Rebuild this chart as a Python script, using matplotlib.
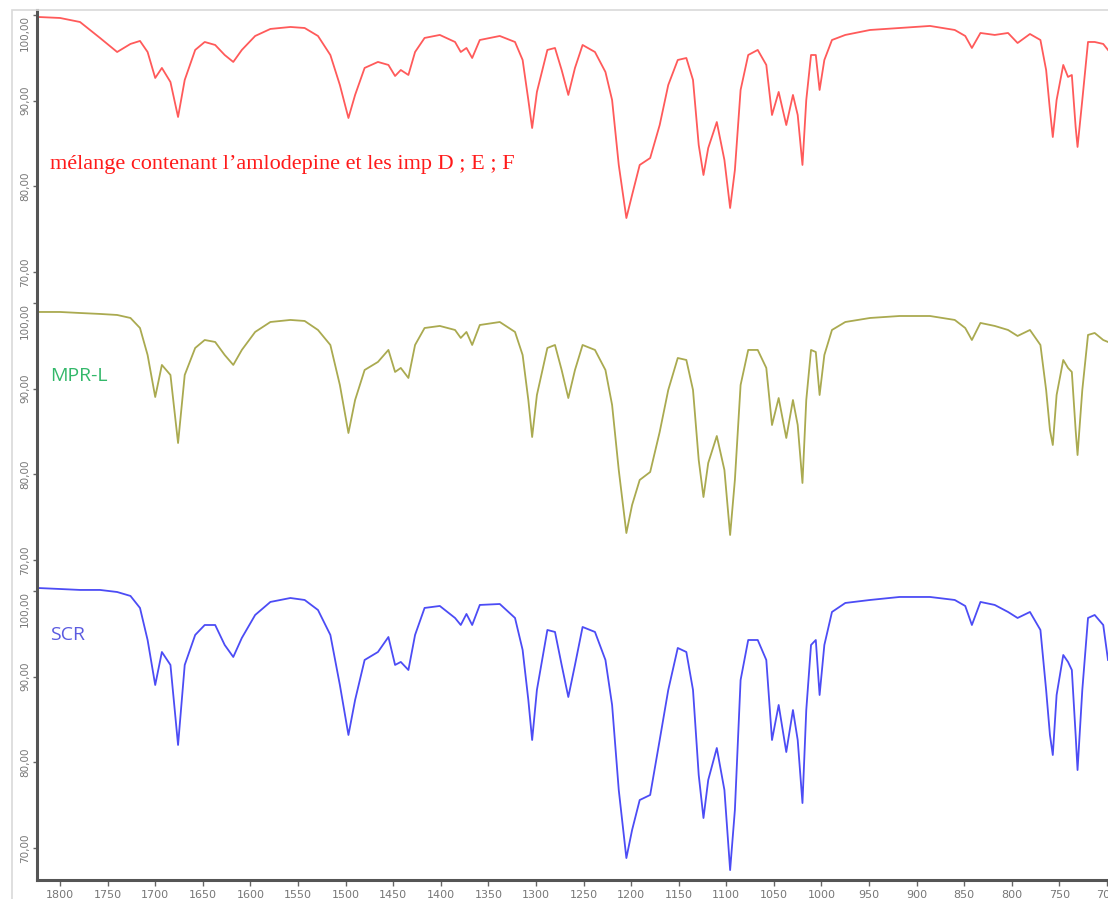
import numpy as np
import matplotlib
matplotlib.use("Agg")
import matplotlib.pyplot as plt
from matplotlib.patches import Rectangle

# wavenumbers (cm-1), same grid for all three spectra
wavenumber = [1824, 1800, 1779, 1758, 1740, 1726, 1716, 1708, 1700, 1693, 1684, 1676,
              1669, 1658, 1648, 1637, 1627, 1618, 1609, 1595, 1579, 1558, 1543, 1529,
              1516, 1506, 1497, 1490, 1480, 1466, 1455, 1448, 1442, 1434, 1427, 1417,
              1401, 1385, 1379, 1373, 1367, 1359, 1338, 1322, 1314, 1308, 1304, 1299,
              1288, 1280, 1273, 1266, 1259, 1251, 1238, 1227, 1220, 1213, 1205, 1199,
              1191, 1180, 1170, 1161, 1151, 1142, 1135, 1129, 1124, 1119, 1110, 1102,
              1096, 1091, 1085, 1077, 1067, 1058, 1052, 1045, 1037, 1030, 1025, 1020,
              1016, 1011, 1006, 1002, 997, 989, 975, 949, 918, 886, 860, 849,
              842, 833, 818, 804, 794, 781, 770, 764, 760, 757, 753, 746,
              741, 737, 733, 731, 726, 720, 713, 704, 699]

# transmittance (%) of the mixture (amlodipine + imp D, E, F)
melange = [99.77, 99.65, 99.18, 97.32, 95.68, 96.62, 96.97, 95.68, 92.65, 93.82, 92.18, 88.10,
           92.42, 95.92, 96.85, 96.50, 95.33, 94.52, 95.92, 97.55, 98.37, 98.60, 98.48, 97.55,
           95.33, 91.83, 87.98, 90.67, 93.82, 94.52, 94.17, 92.88, 93.58, 93.00, 95.68, 97.32,
           97.67, 96.85, 95.68, 96.15, 94.98, 97.08, 97.55, 96.85, 94.75, 90.08, 86.81, 91.02,
           95.92, 96.15, 93.58, 90.67, 93.82, 96.50, 95.68, 93.35, 90.08, 82.50, 76.31, 79.00,
           82.50, 83.31, 87.16, 91.83, 94.75, 94.98, 92.42, 84.83, 81.33, 84.48, 87.51, 83.08,
           77.48, 81.91, 91.25, 95.33, 95.92, 94.17, 88.33, 91.02, 87.16, 90.67, 88.33, 82.50,
           90.08, 95.33, 95.33, 91.25, 94.75, 97.08, 97.67, 98.25, 98.48, 98.72, 98.25, 97.55,
           96.15, 97.90, 97.67, 97.90, 96.73, 97.78, 97.08, 93.58, 88.91, 85.76, 90.08, 94.17,
           92.77, 93.00, 86.93, 84.60, 90.08, 96.85, 96.85, 96.62, 95.92]

# transmittance (%) of MPR-L
mpr_l = [98.95, 98.95, 98.83, 98.72, 98.60, 98.25, 97.08, 93.93, 89.03, 92.77, 91.60, 83.66,
         91.60, 94.75, 95.68, 95.45, 93.93, 92.77, 94.52, 96.62, 97.78, 98.02, 97.90, 96.85,
         95.10, 90.43, 84.83, 88.68, 92.18, 93.12, 94.52, 91.95, 92.42, 91.25, 95.10, 97.08,
         97.32, 96.85, 95.92, 96.62, 95.10, 97.43, 97.78, 96.62, 93.93, 88.68, 84.36, 89.26,
         94.75, 95.10, 92.18, 88.91, 92.18, 95.10, 94.52, 92.18, 88.10, 80.51, 73.16, 76.43,
         79.35, 80.28, 84.95, 89.85, 93.58, 93.35, 89.85, 81.68, 77.36, 81.33, 84.48, 80.51,
         72.93, 79.35, 90.43, 94.52, 94.52, 92.42, 85.76, 88.91, 84.25, 88.68, 85.76, 79.00,
         88.68, 94.52, 94.28, 89.26, 93.93, 96.85, 97.78, 98.25, 98.48, 98.48, 98.02, 97.08,
         95.68, 97.67, 97.32, 96.85, 96.15, 96.85, 95.10, 89.85, 85.18, 83.43, 89.26, 93.35,
         92.42, 91.95, 85.18, 82.26, 89.85, 96.27, 96.50, 95.68, 95.45]

# transmittance (%) of SCR
scr = [100.35, 100.23, 100.12, 100.12, 99.88, 99.42, 98.02, 94.28, 89.03, 92.88, 91.37, 82.03,
       91.37, 94.87, 96.03, 96.03, 93.70, 92.30, 94.52, 97.20, 98.72, 99.18, 98.95, 97.78,
       94.87, 89.03, 83.20, 87.28, 91.95, 92.88, 94.63, 91.37, 91.72, 90.78, 94.87, 98.02,
       98.25, 96.85, 96.03, 97.32, 96.03, 98.37, 98.48, 96.85, 93.12, 87.28, 82.61, 88.45,
       95.45, 95.22, 91.37, 87.63, 91.37, 95.80, 95.22, 91.95, 86.70, 76.78, 68.84, 72.11,
       75.61, 76.20, 82.61, 88.45, 93.35, 92.88, 88.45, 78.53, 73.51, 77.95, 81.68, 76.78,
       67.44, 74.45, 89.61, 94.28, 94.28, 91.95, 82.61, 86.70, 81.21, 86.11, 82.61, 75.26,
       86.11, 93.70, 94.28, 87.86, 93.70, 97.55, 98.60, 98.95, 99.30, 99.30, 98.95, 98.25,
       96.03, 98.72, 98.37, 97.55, 96.85, 97.55, 95.45, 88.45, 83.20, 80.86, 87.86, 92.53,
       91.72, 90.78, 83.20, 79.11, 88.45, 96.85, 97.20, 96.03, 91.95]

labels = ["mélange contenant l\u2019amlodepine et les imp D ; E ; F", "MPR-L", "SCR"]
x_ticks = list(range(1800, 650, -50))
y_ticks = [100, 90, 80, 70]

step = 33.6  # vertical shift between stacked spectra
colors = ["#ff5a5a", "#aaaa50", "#4c4cf5"]
text_colors = ["#ff1a1a", "#33b86a", "#5b5be0"]

W, H = 1108, 899
fig = plt.figure(figsize=(W / 100, H / 100), dpi=100)
fig.patch.set_facecolor("white")

# light grey frame around the plotting area
fig.patches.append(Rectangle((12 / W, -0.01), 1.1, (H - 10) / H + 0.01,
                             transform=fig.transFigure, fill=False,
                             edgecolor="#d9d9d9", lw=1.2))

ax = fig.add_axes([37 / W, (H - 880) / H, (W - 37) / W, 870 / H])

spectra = [melange, mpr_l, scr]
for k, s in enumerate(spectra):
    ax.plot(wavenumber, np.array(s) - k * step, color=colors[k], lw=1.3,
            solid_joinstyle="round")

ax.set_xlim(1824.2, 699)
ax.set_ylim(-0.92, 100.58)

yt, yl = [], []
for k in range(3):
    for t in y_ticks:
        yt.append(t - k * step)
        yl.append("%d,00" % t)
ax.set_yticks(yt)
ax.set_yticklabels(yl, rotation=90)
# the "100,00" labels hang below their tick, the others are centred
for lab in ax.get_yticklabels():
    lab.set_va("top" if lab.get_text().startswith("100") else "center")
ax.set_xticks(x_ticks)
ax.set_xticklabels([str(v) for v in x_ticks])

ax.tick_params(axis="y", length=3, width=1, colors="#666666", labelsize=7.5,
               pad=2, labelcolor="#777777")
ax.tick_params(axis="x", length=4, width=1, colors="#666666", labelsize=8,
               pad=3, labelcolor="#777777")

for side in ["top", "right"]:
    ax.spines[side].set_visible(False)
for side in ["left", "bottom"]:
    ax.spines[side].set_color("#555555")
    ax.spines[side].set_linewidth(2.2)

ax.text(1810.5, 82.0, labels[0], color=text_colors[0], fontsize=16,
        family="Liberation Serif", va="baseline")
ax.text(1810.5, 90.9 - step, labels[1], color=text_colors[1], fontsize=14,
        family="Open Sans", va="baseline")
ax.text(1810.5, 94.3 - 2 * step, labels[2], color=text_colors[2], fontsize=14,
        family="Open Sans", va="baseline")

fig.savefig("out.png", dpi=100, facecolor="white")
